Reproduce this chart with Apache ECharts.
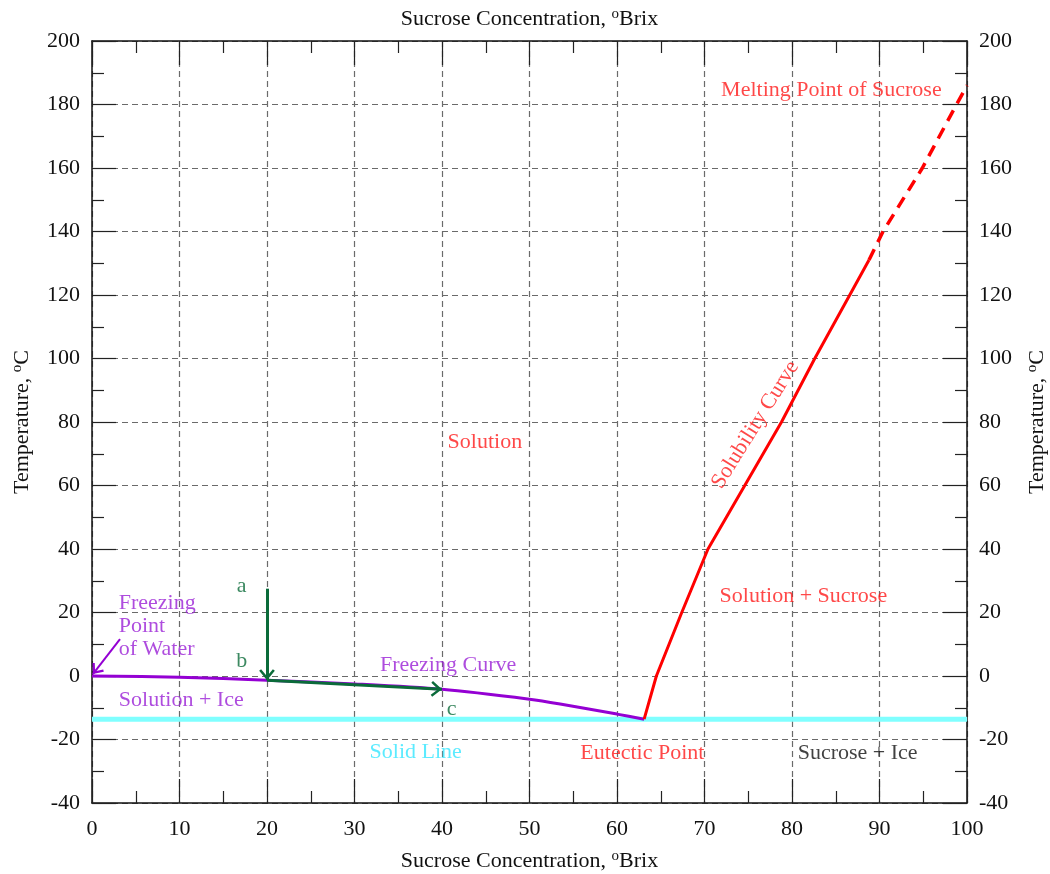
<!DOCTYPE html>
<html>
<head>
<meta charset="utf-8">
<script src="https://cdn.jsdelivr.net/npm/echarts@6/dist/echarts.min.js"></script>
<style>
  html, body { margin: 0; background: #fff; }
  #chart { width: 1050px; height: 874px; }
</style>
</head>
<body>
<div id="chart"></div>
<script>
// axis ranges
const brixRange = [0, 100, 10]      // min, max, step
const tempRange = [-40, 200, 20]

// freezing curve (purple)
const freezeBrix = [0, 10, 20, 30, 40, 50, 53.5, 60, 63.1]
const freezeTemp = [0, -0.4, -1.3, -2.5, -4.2, -7.3, -8.8, -12, -13.6]

// solubility curve (red, solid)
const solubBrix = [63.1, 64.5, 67.4, 70.4, 74.6, 78.8, 82.6, 86.6, 88.8]
const solubTemp = [-13.6, 0, 20, 40, 60, 80, 100, 120, 131]

// extrapolation to melting point (red, dashed)
const meltBrix = [88.8, 90.4, 94.9, 98.8, 100]
const meltTemp = [131, 140, 160, 180, 186]

// solid line (cyan)
const solidBrix = [0, 100]
const solidTemp = [-13.6, -13.6]

// arrows
const arrowAB = [[20, 27.5], [20, -1.3]]
const arrowBC = [[20, -1.3], [40, -4.2]]
const arrowWater = [[3.2, 11.6], [0.1, 0.6]]

// annotation texts
const notes = [
  { text: 'Melting Point of Sucrose', x: 84.5, y: 184.6, color: '#ff1a1a' },
  { text: 'Solubility Curve', x: 75.8, y: 79.1, color: '#ff1a1a', rotate: 58 },
  { text: 'Solution', x: 44.9, y: 73.7, color: '#ff1a1a' },
  { text: 'Solution + Sucrose', x: 81.3, y: 25.2, color: '#ff1a1a' },
  { text: 'Eutectic Point', x: 62.9, y: -24.3, color: '#ff1a1a' },
  { text: 'Sucrose + Ice', x: 87.5, y: -24.3, color: '#111' },
  { text: 'Solid Line', x: 37.0, y: -23.9, color: '#33e6ff' },
  { text: 'Freezing Curve', x: 40.7, y: 3.5, color: '#9a1fd6' },
  { text: 'Solution + Ice', x: 10.2, y: -7.6, color: '#9a1fd6' },
  { text: 'Freezing\nPoint\nof Water', x: 3.0, y: 15.7, color: '#9a1fd6', left: true },
  { text: 'a', x: 17.1, y: 28.3, color: '#0b6b3a' },
  { text: 'b', x: 17.1, y: 4.7, color: '#0b6b3a' },
  { text: 'c', x: 41.1, y: -10.4, color: '#0b6b3a' },
]

const FONT = 'Liberation Serif'
const FS = 22
const RED = '#ff0000'
const PURPLE = '#9400d3'
const GREEN = '#0b6b3a'
const CYAN = '#80ffff'
// open chevron pointing up; extra move-to points pad the box so the tip sits at its centre
const CHEVRON = 'path://M-4,-14 M24,14 M10,0 L20,12 L17.5,14 L10,5 L2.5,14 L0,12 Z'

const zip = (xs, ys) => xs.map((x, i) => [x, ys[i]])

const nameRich = {
  t: { fontFamily: FONT, fontSize: FS, color: '#111', lineHeight: 24 },
  s: { fontFamily: FONT, fontSize: 15, color: '#111', verticalAlign: 'top', lineHeight: 24 }
}
const brixName = '{t|Sucrose Concentration, }{s|o}{t|Brix}'
const tempName = '{t|Temperature, }{s|o}{t|C}'

function xAxis(pos, showLabel) {
  return {
    type: 'value', position: pos,
    min: brixRange[0], max: brixRange[1], interval: brixRange[2],
    axisLine: { onZero: false, lineStyle: { color: '#111', width: 1.5 } },
    axisTick: { inside: true, length: 24, lineStyle: { color: '#222', width: 1.2 } },
    minorTick: { show: true, splitNumber: 2, length: 12, lineStyle: { color: '#222', width: 1.2 } },
    splitLine: { show: pos === 'bottom', lineStyle: { color: '#6a6a6a', width: 1.2, type: [6, 4] } },
    axisLabel: { show: showLabel, fontFamily: FONT, fontSize: FS, color: '#111', margin: 15 },
    name: brixName, nameLocation: 'middle', nameGap: pos === 'bottom' ? 46 : 10,
    nameTextStyle: { rich: nameRich }
  }
}

function yAxis(pos) {
  return {
    type: 'value', position: pos,
    min: tempRange[0], max: tempRange[1], interval: tempRange[2],
    axisLine: { onZero: false, lineStyle: { color: '#111', width: 1.5 } },
    axisTick: { inside: true, length: 24, lineStyle: { color: '#222', width: 1.2 } },
    minorTick: { show: true, splitNumber: 2, length: 12, lineStyle: { color: '#222', width: 1.2 } },
    splitLine: { show: pos === 'left', lineStyle: { color: '#6a6a6a', width: 1.2, type: [6, 4] } },
    axisLabel: { fontFamily: FONT, fontSize: FS, color: '#111', margin: 12 },
    name: tempName, nameLocation: 'middle', nameGap: 58, nameRotate: 90,
    nameTextStyle: { rich: nameRich }
  }
}

const chart = echarts.init(document.getElementById('chart'))
chart.setOption({
  animation: false,
  grid: { left: 92, right: 83, top: 41, bottom: 71, containLabel: false, outerBoundsMode: 'none' },
  xAxis: [xAxis('bottom', true), xAxis('top', false)],
  yAxis: [yAxis('left'), yAxis('right')],
  series: [
    {
      type: 'line', data: zip(solidBrix, solidTemp), symbol: 'none', z: 1,
      lineStyle: { color: CYAN, width: 5 }
    },
    {
      type: 'line', data: zip(freezeBrix, freezeTemp), symbol: 'none', smooth: 0.3, z: 2,
      lineStyle: { color: PURPLE, width: 3 }
    },
    {
      type: 'line', data: zip(solubBrix, solubTemp), symbol: 'none', z: 2,
      lineStyle: { color: RED, width: 3 }
    },
    {
      type: 'line', data: zip(meltBrix, meltTemp), symbol: 'none', z: 2,
      lineStyle: { color: RED, width: 3.5, type: [12, 8] }
    },
    {
      type: 'lines', coordinateSystem: 'cartesian2d', z: 3, clip: false,
      symbol: ['none', CHEVRON], symbolSize: 22,
      lineStyle: { color: GREEN, width: 3, opacity: 1, curveness: 0 },
      data: [{ coords: arrowAB }, { coords: arrowBC }]
    },
    {
      type: 'lines', coordinateSystem: 'cartesian2d', z: 3, clip: false,
      symbol: ['none', CHEVRON], symbolSize: 20,
      lineStyle: { color: PURPLE, width: 2, opacity: 1, curveness: 0 },
      data: [{ coords: arrowWater }]
    },
    {
      type: 'scatter', z: 4, symbolSize: 1, silent: true,
      itemStyle: { color: 'rgba(0,0,0,0)' },
      data: notes.map(n => ({
        value: [n.x, n.y],
        label: {
          show: true, formatter: n.text, color: n.color,
          fontFamily: FONT, fontSize: FS, lineHeight: 23,
          position: n.left ? 'right' : 'inside', distance: 0,
          align: n.left ? 'left' : 'center', verticalAlign: 'middle',
          rotate: n.rotate || 0
        }
      }))
    }
  ]
})
</script>
</body>
</html>
